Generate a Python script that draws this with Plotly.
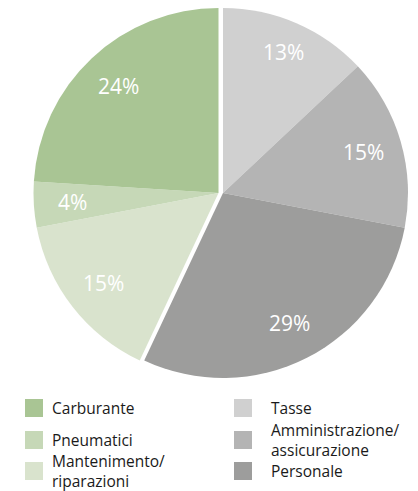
import math
import plotly.graph_objects as go

# ---- data ----
labels = ["Tasse", "Amministrazione/assicurazione", "Personale",
          "Mantenimento/riparazioni", "Pneumatici", "Carburante"]
values = [13, 15, 29, 15, 4, 24]
groups = ["costi fissi", "costi fissi", "costi fissi",
          "costi variabili", "costi variabili", "costi variabili"]
colors = ["#d0d0d0", "#b4b4b4", "#9d9d9c", "#d9e3cd", "#c6d8b7", "#a9c594"]

legend_left = ["Carburante", "Pneumatici", "Mantenimento/<br>riparazioni"]
legend_left_colors = ["#a9c594", "#c6d8b7", "#d9e3cd"]
legend_right = ["Tasse", "Amministrazione/<br>assicurazione", "Personale"]
legend_right_colors = ["#d0d0d0", "#b4b4b4", "#9d9d9c"]

# ---- layout constants (pixels) ----
W, H = 418, 491
R = 185
CX_FIX, CY = 223, 193      # gray group centre
SHIFT = 4.5                # green group pulled to the left
FONT = "Open Sans"

def px(x):
    return x / W

def py(y):
    return 1 - y / H

transparent = "rgba(0,0,0,0)"

fig = go.Figure()
for grp, cx in (("costi fissi", CX_FIX), ("costi variabili", CX_FIX - SHIFT)):
    cols = [c if g == grp else transparent for c, g in zip(colors, groups)]
    fig.add_trace(go.Pie(
        labels=labels, values=values, sort=False, direction="clockwise",
        rotation=0, marker=dict(colors=cols, line=dict(width=0)),
        textinfo="none", hoverinfo="skip", showlegend=False,
        domain=dict(x=[px(cx - R), px(cx + R)], y=[py(CY + R), py(CY - R)]),
    ))

annotations = []
total = sum(values)
cum = 0
for v, g in zip(values, groups):
    mid = (cum + v / 2) / total * 2 * math.pi
    cum += v
    cx = CX_FIX if g == "costi fissi" else CX_FIX - SHIFT
    rr = 0.79 * R if v != 13 else 0.83 * R
    x = cx + rr * math.sin(mid)
    y = CY - rr * math.cos(mid)
    annotations.append(dict(
        x=px(x), y=py(y), xref="paper", yref="paper", showarrow=False,
        text=f"{v}%", font=dict(family=FONT, size=21, color="white"),
        xanchor="center", yanchor="middle"))

shapes = []
row_y = [408, 440, 471]
for col_x, text_x, names, cols in ((25, 51, legend_left, legend_left_colors),
                                    (234, 270, legend_right, legend_right_colors)):
    for yc, name, c in zip(row_y, names, cols):
        shapes.append(dict(type="rect", xref="paper", yref="paper",
                           x0=px(col_x), x1=px(col_x + 18),
                           y0=py(yc + 9), y1=py(yc - 9),
                           fillcolor=c, line=dict(width=0)))
        annotations.append(dict(
            x=px(text_x), y=py(yc), xref="paper", yref="paper",
            showarrow=False, text=name, xanchor="left", yanchor="middle",
            align="left", borderpad=0,
            font=dict(family=FONT, size=15.5, color="#1a1a1a")))

fig.update_layout(
    width=W, height=H, margin=dict(l=0, r=0, t=0, b=0),
    paper_bgcolor="white", plot_bgcolor="white",
    annotations=annotations, shapes=shapes, showlegend=False,
)

fig.write_html("out.html",
               config={"displayModeBar": False},
               post_script="document.body.style.margin='0';"
                           "document.body.style.overflow='hidden';")
